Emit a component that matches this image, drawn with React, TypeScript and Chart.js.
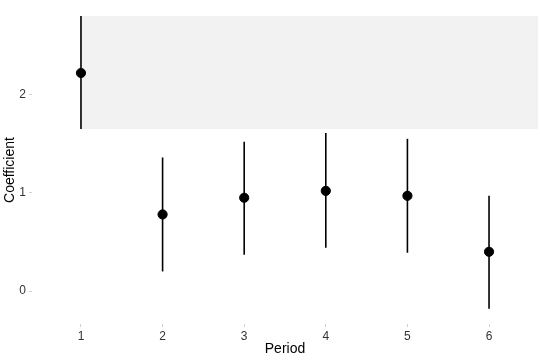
import React, { useEffect, useRef } from "react";
import { Chart, registerables } from "chart.js";

Chart.register(...registerables);

const periods = [1, 2, 3, 4, 5, 6];
const coefficients = [2.22, 0.78, 0.95, 1.02, 0.97, 0.4];
const lowerBounds = [1.65, 0.2, 0.37, 0.44, 0.39, -0.18];
const upperBounds = [2.81, 1.36, 1.52, 1.61, 1.55, 0.97];
const yTicks = [0, 1, 2];
const xTicks = [1, 2, 3, 4, 5, 6];
const shadeFromX = 1;
const shadeFromY = 1.65;

const FONT = "'Liberation Sans', Arial, Helvetica, sans-serif";

export default function App() {
  const ref = useRef<HTMLCanvasElement | null>(null);
  useEffect(() => {
    document.body.style.margin = "0";
    const canvas = ref.current;
    if (!canvas) return;

    const shadePlugin = {
      id: "shade",
      beforeDatasetsDraw(chart: any) {
        const { ctx, chartArea, scales } = chart;
        const x0 = scales.x.getPixelForValue(shadeFromX);
        const y0 = scales.y.getPixelForValue(shadeFromY);
        ctx.save();
        ctx.fillStyle = "#f2f2f2";
        ctx.fillRect(x0, chartArea.top, chartArea.right - x0, y0 - chartArea.top);
        ctx.restore();
      },
    };

    const errorPlugin = {
      id: "errbars",
      beforeDatasetsDraw(chart: any) {
        const { ctx, scales, chartArea } = chart;
        ctx.save();
        ctx.beginPath();
        ctx.rect(chartArea.left, chartArea.top, chartArea.right - chartArea.left, chartArea.bottom - chartArea.top);
        ctx.clip();
        ctx.strokeStyle = "#000";
        ctx.lineWidth = 1.6;
        periods.forEach((p, i) => {
          const x = scales.x.getPixelForValue(p);
          ctx.beginPath();
          ctx.moveTo(x, scales.y.getPixelForValue(lowerBounds[i]));
          ctx.lineTo(x, scales.y.getPixelForValue(upperBounds[i]));
          ctx.stroke();
        });
        ctx.restore();
      },
    };

    const chart = new Chart(canvas, {
      type: "scatter",
      data: {
        datasets: [
          {
            data: periods.map((p, i) => ({ x: p, y: coefficients[i] })),
            backgroundColor: "#000",
            borderColor: "#000",
            pointRadius: 4.6,
            pointHoverRadius: 4.6,
          },
        ],
      },
      options: {
        animation: false,
        responsive: false,
        maintainAspectRatio: false,
        layout: { autoPadding: false, padding: { top: 16, right: 2, left: 0, bottom: 0 } },
        plugins: { legend: { display: false }, tooltip: { enabled: false } },
        scales: {
          x: {
            type: "linear",
            min: 0.4,
            max: 6.6,
            afterBuildTicks: (s: any) => {
              s.ticks = xTicks.map((v) => ({ value: v }));
            },
            afterFit: (s: any) => {
              s.height = 36;
            },
            border: { display: false },
            grid: {
              drawOnChartArea: false,
              drawTicks: true,
              tickLength: 3,
              color: "#d0d0d0",
              tickColor: "#d0d0d0",
            },
            ticks: {
              padding: 2,
              color: "#333",
              maxRotation: 0,
              font: { family: FONT, size: 12 },
              callback: (v: any) => String(v),
            },
            title: {
              display: true,
              text: "Period",
              color: "#000",
              font: { family: FONT, size: 14 },
              padding: { top: 0, bottom: 2 },
            },
          },
          y: {
            type: "linear",
            min: -0.335,
            max: 2.8,
            afterBuildTicks: (s: any) => {
              s.ticks = yTicks.map((v) => ({ value: v }));
            },
            afterFit: (s: any) => {
              s.width = 32;
            },
            border: { display: false },
            grid: {
              drawOnChartArea: false,
              drawTicks: true,
              tickLength: 3,
              color: "#d0d0d0",
              tickColor: "#d0d0d0",
            },
            ticks: {
              padding: 3,
              color: "#333",
              font: { family: FONT, size: 12 },
              callback: (v: any) => String(v),
            },
            title: {
              display: true,
              text: "Coefficient",
              color: "#000",
              font: { family: FONT, size: 14 },
              padding: { top: 2, bottom: 0 },
            },
          },
        },
      },
      plugins: [shadePlugin, errorPlugin],
    });
    return () => chart.destroy();
  }, []);
  return <canvas ref={ref} width={540} height={360} style={{ display: "block" }} />;
}
